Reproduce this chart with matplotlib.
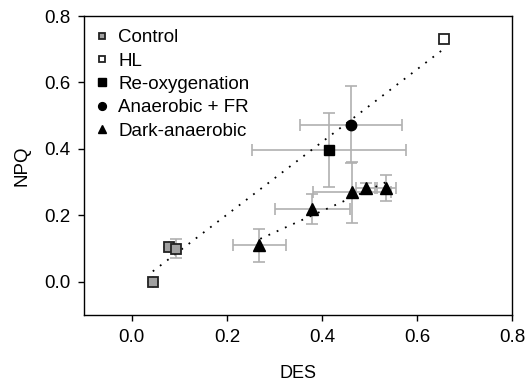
import numpy as np
import matplotlib
matplotlib.use('Agg')
import matplotlib.pyplot as plt

plt.rcParams['font.family'] = ['Liberation Sans', 'DejaVu Sans']

# Control
ctrl_x = [0.045, 0.078, 0.093]
ctrl_y = [0.000, 0.104, 0.099]
ctrl_xerr = [0.0, 0.0, 0.008]
ctrl_yerr = [0.0, 0.0, 0.029]

# HL
hl_x = [0.657]
hl_y = [0.731]

# Re-oxygenation
reox_x = [0.415]
reox_y = [0.396]
reox_xerr = [0.162]
reox_yerr = [0.111]

# Anaerobic + FR
anfr_x = [0.461]
anfr_y = [0.473]
anfr_xerr = [0.108]
anfr_yerr = [0.115]

# Dark-anaerobic
dark_x = [0.268, 0.379, 0.463, 0.492, 0.535]
dark_y = [0.109, 0.219, 0.269, 0.282, 0.282]
dark_xerr = [0.056, 0.079, 0.083, 0.020, 0.020]
dark_yerr = [0.051, 0.046, 0.091, 0.015, 0.040]

# dotted trend lines
trend1_x = [0.044, 0.655]
trend1_y = [0.031, 0.700]
trend2_x = [0.270, 0.535]
trend2_y = [0.129, 0.300]

fig, ax = plt.subplots(figsize=(5.27, 3.83), dpi=100)
fig.subplots_adjust(left=0.16, right=0.972, top=0.958, bottom=0.178)

err_kw = dict(fmt='none', ecolor='#b0b0b0', elinewidth=1.2, capsize=4, capthick=1.2, zorder=1)
ax.errorbar(ctrl_x, ctrl_y, xerr=ctrl_xerr, yerr=ctrl_yerr, **err_kw)
ax.errorbar(reox_x, reox_y, xerr=reox_xerr, yerr=reox_yerr, **err_kw)
ax.errorbar(anfr_x, anfr_y, xerr=anfr_xerr, yerr=anfr_yerr, **err_kw)
ax.errorbar(dark_x, dark_y, xerr=dark_xerr, yerr=dark_yerr, **err_kw)

ax.plot(trend1_x, trend1_y, color='black', linestyle=(0, (1, 4)), linewidth=1.3, zorder=2)
ax.plot(trend2_x, trend2_y, color='black', linestyle=(0, (1, 4)), linewidth=1.3, zorder=2)

ax.plot(ctrl_x, ctrl_y, 's', color='#a0a0a0', markeredgecolor='#222222', markeredgewidth=1.3,
        markersize=6.5, linestyle='none', label='Control', zorder=3)
ax.plot(hl_x, hl_y, 's', color='white', markeredgecolor='#222222', markeredgewidth=1.3,
        markersize=6.5, linestyle='none', label='HL', zorder=3)
ax.plot(reox_x, reox_y, 's', color='black', markersize=7.5, linestyle='none',
        label='Re-oxygenation', zorder=3)
ax.plot(anfr_x, anfr_y, 'o', color='black', markersize=7.5, linestyle='none',
        label='Anaerobic + FR', zorder=3)
ax.plot(dark_x, dark_y, '^', color='black', markersize=8.5, linestyle='none',
        label='Dark-anaerobic', zorder=3)

ax.set_xlim(-0.1, 0.8)
ax.set_ylim(-0.1, 0.8)
ax.set_xticks([0.0, 0.2, 0.4, 0.6, 0.8])
ax.set_yticks([0.0, 0.2, 0.4, 0.6, 0.8])
ax.xaxis.set_major_formatter(matplotlib.ticker.FormatStrFormatter('%.1f'))
ax.yaxis.set_major_formatter(matplotlib.ticker.FormatStrFormatter('%.1f'))
ax.tick_params(direction='out', length=4, width=1, labelsize=13.5, colors='black', pad=6)
for s in ax.spines.values():
    s.set_linewidth(1.0)

ax.set_xlabel('DES', fontsize=13, labelpad=14)
ax.set_ylabel('NPQ', fontsize=13.5, labelpad=10)

leg = ax.legend(loc='upper left', frameon=False, fontsize=13.5, handlelength=0.5,
                handletextpad=0.6, labelspacing=0.33, borderaxespad=0.3,
                markerscale=0.75, bbox_to_anchor=(0.0, 1.0))

fig.savefig('out.png', dpi=100)
